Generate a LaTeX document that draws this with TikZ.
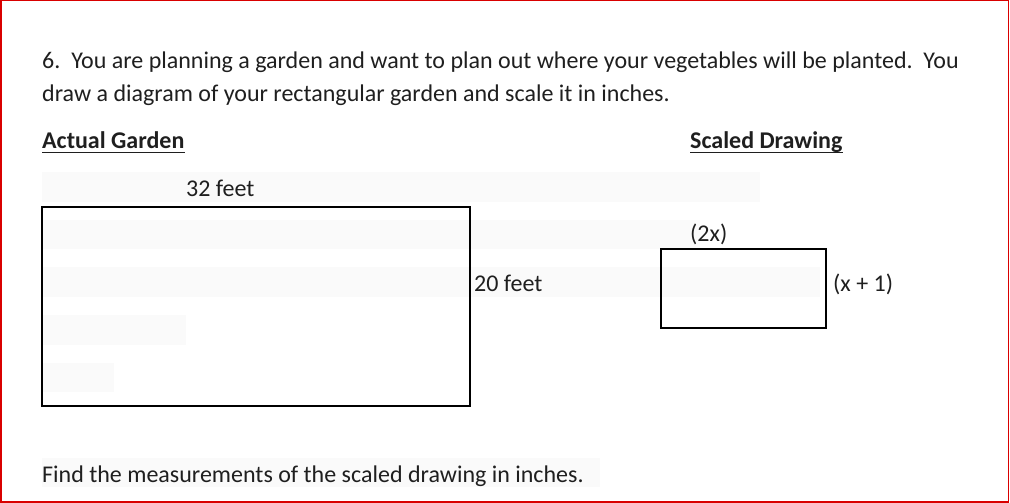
\documentclass[tikz,border=0pt]{standalone}
\usepackage{fontspec}
\setmainfont{Carlito}
\usetikzlibrary{positioning}

\begin{document}
\begin{tikzpicture}[x=1pt, y=-1pt,
    font=\fontsize{24}{29}\selectfont,
    txt/.style={anchor=base west, inner sep=0pt, text=black!88},
    band/.style={fill=black!2, draw=none},
    plot/.style={draw=black, line width=2pt}]

        \useasboundingbox (0,0) rectangle (1010,503);
        \fill[white] (0,0) rectangle (1010,503);

        % faint bands behind the text lines
        \fill[band] (42,172) rectangle (760,202);
        \fill[band] (42,220) rectangle (700,249);
        \fill[band] (42,267) rectangle (820,297);
        \fill[band] (42,315) rectangle (186,345);
        \fill[band] (42,363) rectangle (114,392);
        \fill[band] (42,458) rectangle (600,487);

        % question
        \node[txt] (q1) at (42,69) {6.\ \ You are planning a garden and want to plan out where your vegetables will be planted.\ \ You};
        \node[txt] (q2) at (42,101) {draw a diagram of your rectangular garden and scale it in inches.};

        % headings
        \node[txt, font=\fontsize{24}{29}\selectfont\bfseries] (actual) at (42,148) {Actual Garden};
        \node[txt, font=\fontsize{24}{29}\selectfont\bfseries] (scaled) at (690,148) {Scaled Drawing};
        \draw[line width=1.8pt, black!88] ([yshift=-4.5pt]actual.base west) -- ([yshift=-4.5pt]actual.base east);
        \draw[line width=1.8pt, black!88] ([yshift=-4.5pt]scaled.base west) -- ([yshift=-4.5pt]scaled.base east);

        % actual garden
        \draw[plot] (42,207) rectangle (470,406);
        \node[txt] (len) at (186,196) {32 feet};
        \node[txt] (wid) at (474,291) {20 feet};

        % scaled drawing
        \draw[plot] (661,249) rectangle (826,328);
        \node[txt] (slen) at (690,241) {(2x)};
        \node[txt] (swid) at (833,291) {(x + 1)};

        \node[txt] (find) at (42,482) {Find the measurements of the scaled drawing in inches.};

        % frame
        \draw[red!85!black, line width=1.5pt] (1,0.75) rectangle (1008.5,501.75);

    \end{tikzpicture}
\end{document}
